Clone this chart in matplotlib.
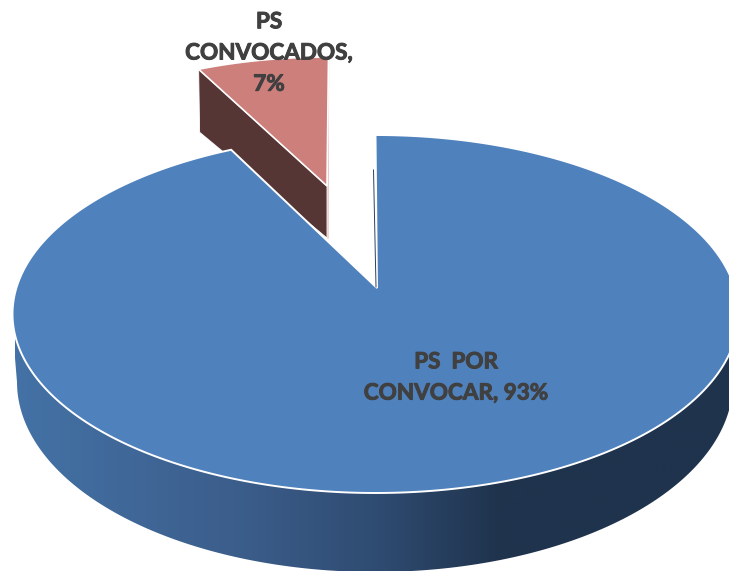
import numpy as np
import matplotlib
matplotlib.use("Agg")
import matplotlib.pyplot as plt
import matplotlib.patheffects as pe
from matplotlib.colors import LinearSegmentedColormap
from matplotlib.patches import Polygon

categories = ["PS  POR\nCONVOCAR", "PS\nCONVOCADOS"]
values = [93, 7]
labels = ["PS  POR\nCONVOCAR, 93%", "PS\nCONVOCADOS,\n7%"]

W, H = 729, 571
fig = plt.figure(figsize=(W / 100, H / 100), dpi=100, facecolor="white")
ax = fig.add_axes([0, 0, 1, 1])
ax.set_xlim(0, W)
ax.set_ylim(H, 0)
ax.axis("off")

fractions = np.array(values, dtype=float) / sum(values)
sweep = 360 * fractions
WARP = -2.3   # foreshortening of the angle on the tilted disc


def rim(t_deg, cx, cy, rx, ry, warp=0.0):
    t = np.radians(t_deg + warp * np.sin(np.radians(2 * np.asarray(t_deg, float))))
    return cx + rx * np.sin(t), cy - ry * np.cos(t)


# --- small exploded slice (behind the large one) ---
s_apex = (327, 186)
s_t = np.linspace(-sweep[1], 0, 60)
sx, sy = rim(s_t, s_apex[0] + 1.5, s_apex[1], 305, 129)
corner = (sx[0], sy[0])
side = [corner, (corner[0] + 1, corner[1] + 63),
        (s_apex[0], s_apex[1] + 52), s_apex]
ax.add_patch(Polygon(side, closed=True, fc="#563535", ec="white", lw=0.6, zorder=2))
ax.plot([sx[-1], s_apex[0] + 1], [sy[-1], s_apex[1] + 52],
        color="#E8C4C2", lw=1.0, zorder=2)
ax.add_patch(Polygon(list(zip(sx, sy)) + [s_apex], closed=True,
                     fc="#CD7F7C", ec="white", lw=1.2, zorder=3))

# --- body of the large slice, horizontal gradient clipped to its outline ---
cx, cy, rx, ry = 375.5, 314, 363, 179
bcx, bcy, brx, bry = 375, 382, 358, 190
tb = np.linspace(90, 270, 200)
bx, by = rim(tb, bcx, bcy, brx, bry)
outline = [(cx + rx, cy + 14)] + list(zip(bx, by)) + [(cx - rx, cy + 14)]
body = Polygon(outline, closed=True, fc="none", ec="none", transform=ax.transData)
ax.add_patch(body)
stops = [(0.00, "#4472A6"), (0.32, "#3B5D8A"), (0.52, "#2E4A6F"),
         (0.68, "#1F334D"), (1.00, "#1F334D")]
cmap = LinearSegmentedColormap.from_list("side", stops)
im = ax.imshow(np.linspace(0, 1, 512)[None, :], extent=[15, W, H, 300], aspect="auto",
               cmap=cmap, zorder=4)
im.set_clip_path(body)
ax.set_xlim(0, W)
ax.set_ylim(H, 0)

# --- top face of the large slice ---
apex = (377, 288)
t = np.linspace(0, sweep[0], 500)
mx, my = rim(t, cx, cy, rx, ry, WARP)
ax.add_patch(Polygon(list(zip(mx, my)) + [apex], closed=True,
                     fc="#4F81BD", ec="white", lw=1.4, zorder=5, joinstyle="miter"))
# thin inner cut face visible at the gap
ax.plot([373.5, 376], [170, 287], color="#2A4260", lw=0.7, zorder=6)

# --- labels ---
font = dict(family="Lato", fontweight="bold", color="#404040", fontsize=16.2,
            ha="center", va="center", linespacing=1.6, zorder=8,
            path_effects=[pe.withStroke(linewidth=0.7, foreground="#404040")])
ax.text(456, 377.5, labels[0], **font)
ax.text(269, 53, labels[1], **font)

fig.savefig("out.png", dpi=100, facecolor="white")
